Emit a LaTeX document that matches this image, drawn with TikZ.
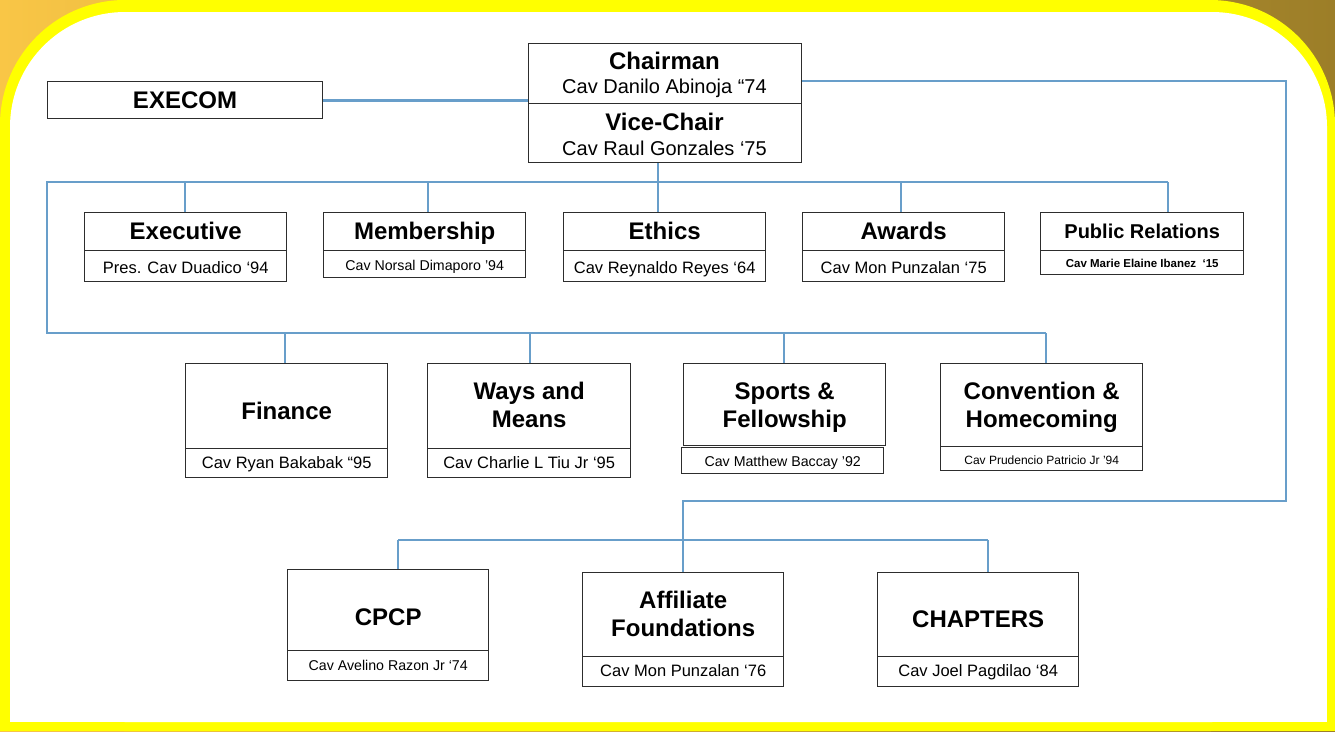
\documentclass[tikz,border=0pt]{standalone}
\usepackage{fontspec}
\setmainfont{Liberation Sans}
\definecolor{lnblue}{RGB}{104,158,202}
\definecolor{bxline}{RGB}{45,45,45}
\definecolor{bgorange}{RGB}{249,198,70}
\definecolor{bgbrown}{RGB}{156,126,40}
\definecolor{frame}{RGB}{255,255,0}
\newcommand{\ttl}{\fontsize{24}{28}\selectfont\bfseries}
\newcommand{\ttlsm}{\fontsize{20}{24}\selectfont\bfseries}
\newcommand{\subA}{\fontsize{20}{24}\selectfont}
\newcommand{\subB}{\fontsize{16.5}{20}\selectfont}
\newcommand{\subC}{\fontsize{14.2}{17}\selectfont}
\newcommand{\subD}{\fontsize{12}{14}\selectfont}
\newcommand{\subE}{\fontsize{11.5}{13}\selectfont\bfseries}
\tikzset{
  box/.style={draw=bxline, line width=1.4pt, fill=white, inner sep=0pt, anchor=north west},
  conn/.style={draw=lnblue, line width=2.6pt},
  txt/.style={inner sep=0pt, anchor=base, text=black},
}
\begin{document}
\begin{tikzpicture}[x=1pt,y=-1pt]
\useasboundingbox (0,0) rectangle (1335,731);
% background
\shade[left color=bgorange, right color=bgbrown] (0,0) rectangle (1335,731);
\fill[frame, rounded corners=125pt] (0,0) rectangle (1335,731);
\fill[frame] (0,300) rectangle (1335,731);
\fill[white, rounded corners=115pt] (10,12) rectangle (1327,722);
\fill[white] (10,300) rectangle (1327,722);

% junction coordinates
\coordinate (jv) at (658,182);
\coordinate (b1l) at (47,182);
\coordinate (b1r) at (1168,182);
\coordinate (b2l) at (47,333);
\coordinate (b2r) at (1046,333);
\coordinate (rtop) at (1286,81);
\coordinate (rbot) at (1286,501);
\coordinate (abar) at (683,501);
\coordinate (b3l) at (398,540);
\coordinate (b3r) at (988,540);

% boxes
\node[box, minimum width=275, minimum height=37] (execom) at (47,81) {};
\node[box, minimum width=273, minimum height=60] (chair) at (528,43) {};
\node[box, minimum width=273, minimum height=59] (vice) at (528,103) {};

\node[box, minimum width=202, minimum height=38] (exec) at (84,212) {};
\node[box, minimum width=202, minimum height=31] (execS) at (84,250) {};
\node[box, minimum width=202, minimum height=38] (memb) at (323,212) {};
\node[box, minimum width=202, minimum height=27] (membS) at (323,250) {};
\node[box, minimum width=202, minimum height=38] (eth) at (563,212) {};
\node[box, minimum width=202, minimum height=31] (ethS) at (563,250) {};
\node[box, minimum width=202, minimum height=38] (awd) at (802,212) {};
\node[box, minimum width=202, minimum height=31] (awdS) at (802,250) {};
\node[box, minimum width=203, minimum height=38] (pr) at (1040,212) {};
\node[box, minimum width=203, minimum height=24] (prS) at (1040,250) {};

\node[box, minimum width=202, minimum height=85] (fin) at (185,363) {};
\node[box, minimum width=202, minimum height=29] (finS) at (185,448) {};
\node[box, minimum width=203, minimum height=85] (ways) at (427,363) {};
\node[box, minimum width=203, minimum height=29] (waysS) at (427,448) {};
\node[box, minimum width=202, minimum height=82] (spo) at (683,363) {};
\node[box, minimum width=202, minimum height=26] (spoS) at (681,447) {};
\node[box, minimum width=202, minimum height=83] (conv) at (940,363) {};
\node[box, minimum width=202, minimum height=24] (convS) at (940,446) {};

\node[box, minimum width=201, minimum height=81] (cpcp) at (287,569) {};
\node[box, minimum width=201, minimum height=30] (cpcpS) at (287,650) {};
\node[box, minimum width=201, minimum height=84] (aff) at (582,572) {};
\node[box, minimum width=201, minimum height=30] (affS) at (582,656) {};
\node[box, minimum width=201, minimum height=84] (chap) at (877,572) {};
\node[box, minimum width=201, minimum height=30] (chapS) at (877,656) {};

% connectors
\draw[conn] (execom.east) -- (execom.east -| chair.west);
\draw[conn] (chair.east |- rtop) -- (rtop) -- (rbot) -- (abar) -- (abar |- aff.north);
\draw[conn] (vice.south -| jv) -- (jv);
\draw[conn] (b1r) -- (b1l) -- (b2l) -- (b2r);
\draw[conn] (185,182) -- (185,182 |- exec.north);
\draw[conn] (428,182) -- (428,182 |- memb.north);
\draw[conn] (658,182) -- (658,182 |- eth.north);
\draw[conn] (901,182) -- (901,182 |- awd.north);
\draw[conn] (b1r) -- (b1r |- pr.north);
\draw[conn] (285,333) -- (285,333 |- fin.north);
\draw[conn] (530,333) -- (530,333 |- ways.north);
\draw[conn] (784,333) -- (784,333 |- spo.north);
\draw[conn] (b2r) -- (b2r |- conv.north);
\draw[conn] (b3l) -- (b3r);
\draw[conn] (b3l) -- (b3l |- cpcp.north);
\draw[conn] (b3r) -- (b3r |- chap.north);

% texts
\node[txt, font=\ttl] (t-execom) at (185,108.6) {EXECOM};
\node[txt, font=\ttl] (t-chair) at (664.5,69.6) {Chairman};
\node[txt, font=\subA] (s-chair) at (664.5,93.2) {Cav Danilo Abinoja “74};
\node[txt, font=\ttl] (t-vice) at (664.5,130.6) {Vice-Chair};
\node[txt, font=\subA] (s-vice) at (664.5,155.2) {Cav Raul Gonzales ‘75};

\node[txt, font=\ttl] (t-exec) at (exec.center |- 0,239.6) {Executive};
\node[txt, font=\subB] (s-exec) at (exec.center |- 0,273.9) {Pres. Cav Duadico ‘94};
\node[txt, font=\ttl] (t-memb) at (memb.center |- 0,239.6) {Membership};
\node[txt, font=\subC] (s-memb) at (memb.center |- 0,270) {Cav Norsal Dimaporo '94};
\node[txt, font=\ttl] (t-eth) at (eth.center |- 0,239.6) {Ethics};
\node[txt, font=\subB] (s-eth) at (eth.center |- 0,273.9) {Cav Reynaldo Reyes ‘64};
\node[txt, font=\ttl] (t-awd) at (awd.center |- 0,239.6) {Awards};
\node[txt, font=\subB] (s-awd) at (awd.center |- 0,273.9) {Cav Mon Punzalan ‘75};
\node[txt, font=\ttlsm] (t-pr) at (pr.center |- 0,238.2) {Public Relations};
\node[txt, font=\subE] (s-pr) at (pr.center |- 0,267) {Cav Marie Elaine Ibanez \ ‘15};

\node[txt, font=\ttl] (t-fin) at (fin.center |- 0,419.6) {Finance};
\node[txt, font=\subB] (s-fin) at (fin.center |- 0,468.9) {Cav Ryan Bakabak “95};
\node[txt, font=\ttl] (t-ways1) at (ways.center |- 0,399.6) {Ways and};
\node[txt, font=\ttl] (t-ways2) at (ways.center |- 0,427.6) {Means};
\node[txt, font=\subB] (s-ways) at (ways.center |- 0,468.9) {Cav Charlie L Tiu Jr ‘95};
\node[txt, font=\ttl] (t-spo1) at (spo.center |- 0,399.6) {Sports \&};
\node[txt, font=\ttl] (t-spo2) at (spo.center |- 0,427.6) {Fellowship};
\node[txt, font=\subC] (s-spo) at (spoS.center |- 0,466) {Cav Matthew Baccay '92};
\node[txt, font=\ttl] (t-conv1) at (conv.center |- 0,399.6) {Convention \&};
\node[txt, font=\ttl] (t-conv2) at (conv.center |- 0,427.6) {Homecoming};
\node[txt, font=\subD] (s-conv) at (conv.center |- 0,464.3) {Cav Prudencio Patricio Jr '94};

\node[txt, font=\ttl] (t-cpcp) at (cpcp.center |- 0,625.6) {CPCP};
\node[txt, font=\subC] (s-cpcp) at (cpcp.center |- 0,670) {Cav Avelino Razon Jr ‘74};
\node[txt, font=\ttl] (t-aff1) at (aff.center |- 0,608.6) {Affiliate};
\node[txt, font=\ttl] (t-aff2) at (aff.center |- 0,636.6) {Foundations};
\node[txt, font=\subB] (s-aff) at (aff.center |- 0,676.9) {Cav Mon Punzalan ‘76};
\node[txt, font=\ttl] (t-chap) at (chap.center |- 0,627.6) {CHAPTERS};
\node[txt, font=\subB] (s-chap) at (chap.center |- 0,676.9) {Cav Joel Pagdilao ‘84};
\end{tikzpicture}
\end{document}
